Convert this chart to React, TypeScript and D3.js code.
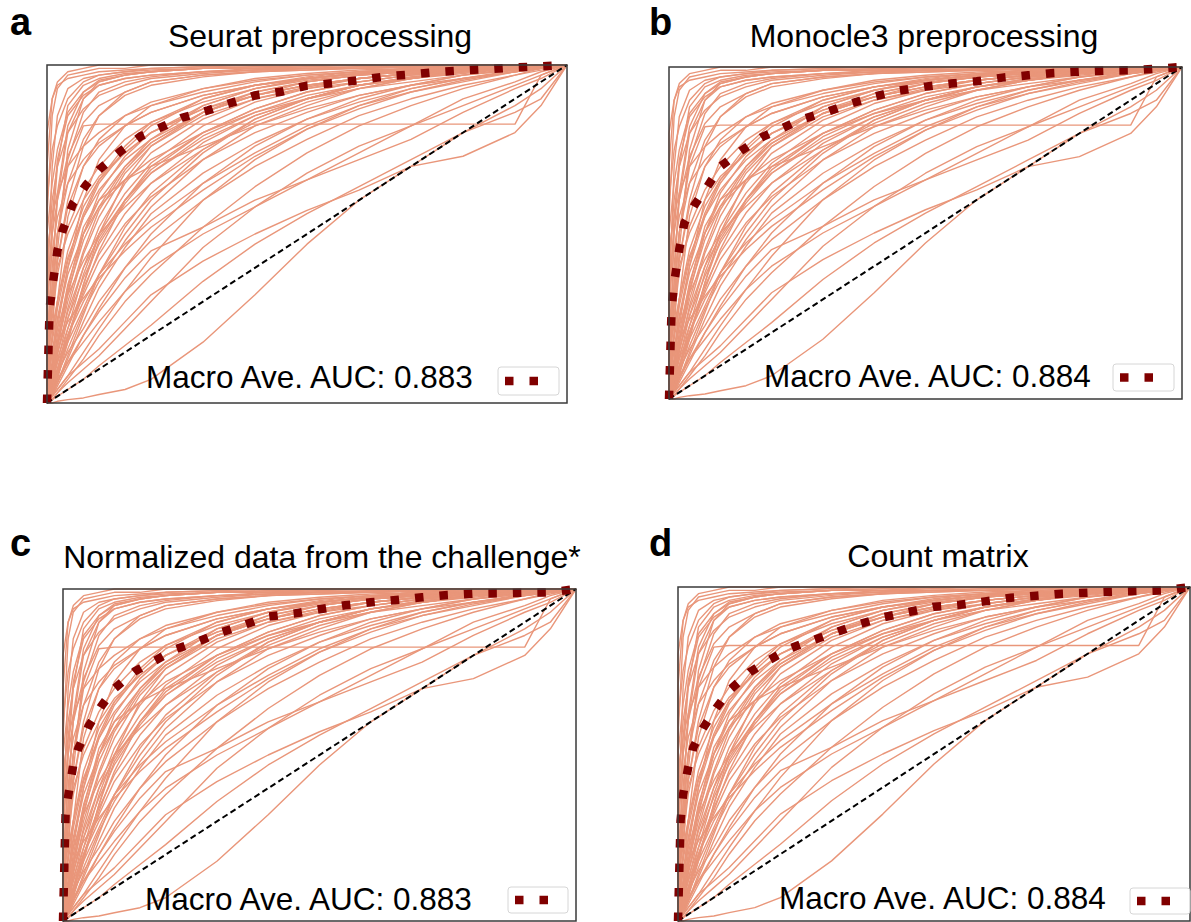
import React from 'react';
import * as d3 from 'd3';

// ---------- DATA ----------
// shared false-positive-rate grid for the per-class ROC curves
const FPR_GRID = [0, 0.01, 0.02, 0.04, 0.07, 0.1, 0.15, 0.2, 0.3, 0.4, 0.5, 0.6, 0.7, 0.8, 0.9, 0.95, 1];
// every ROC curve starts at the origin
const ROC_ORIGIN: [number, number] = [0, 0];

// per-class true-positive rates at FPR_GRID
const CLASS_TPR: number[][] = [
  [0.55, 0.85, 0.93, 0.97, 0.98, 0.99, 0.99, 1, 1, 1, 1, 1, 1, 1, 1, 1, 1],
  [0.3, 0.7, 0.85, 0.93, 0.96, 0.97, 0.98, 0.985, 0.99, 0.995, 1, 1, 1, 1, 1, 1, 1],
  [0.1, 0.5, 0.7, 0.88, 0.94, 0.96, 0.975, 0.98, 0.99, 0.99, 0.995, 1, 1, 1, 1, 1, 1],
  [0.6, 0.75, 0.82, 0.9, 0.95, 0.97, 0.98, 0.99, 0.995, 1, 1, 1, 1, 1, 1, 1, 1],
  [0.2, 0.4, 0.6, 0.8, 0.9, 0.94, 0.96, 0.97, 0.98, 0.99, 0.99, 0.995, 1, 1, 1, 1, 1],
  [0.05, 0.3, 0.5, 0.72, 0.86, 0.92, 0.95, 0.965, 0.98, 0.985, 0.99, 0.995, 0.995, 1, 1, 1, 1],
  [0.4, 0.6, 0.7, 0.8, 0.87, 0.91, 0.94, 0.96, 0.975, 0.985, 0.99, 0.99, 0.995, 1, 1, 1, 1],
  [0.0, 0.2, 0.45, 0.75, 0.9, 0.95, 0.97, 0.98, 0.99, 0.99, 1, 1, 1, 1, 1, 1, 1],
  [0.7, 0.9, 0.95, 0.98, 0.99, 1, 1, 1, 1, 1, 1, 1, 1, 1, 1, 1, 1],
  [0.15, 0.35, 0.5, 0.65, 0.78, 0.85, 0.91, 0.94, 0.965, 0.98, 0.985, 0.99, 0.995, 1, 1, 1, 1],
  [0.8, 0.9, 0.94, 0.96, 0.97, 0.98, 0.985, 0.99, 0.995, 1, 1, 1, 1, 1, 1, 1, 1],
  [0.25, 0.55, 0.72, 0.85, 0.91, 0.94, 0.96, 0.97, 0.98, 0.985, 0.99, 0.99, 0.995, 1, 1, 1, 1],
  [0.0, 0.35, 0.62, 0.82, 0.92, 0.955, 0.97, 0.98, 0.99, 0.995, 1, 1, 1, 1, 1, 1, 1],
  [0.5, 0.65, 0.75, 0.86, 0.92, 0.95, 0.97, 0.98, 0.99, 0.99, 0.995, 1, 1, 1, 1, 1, 1],
  [0.12, 0.28, 0.42, 0.6, 0.76, 0.85, 0.92, 0.95, 0.97, 0.98, 0.99, 0.99, 0.995, 1, 1, 1, 1],
  [0.35, 0.5, 0.6, 0.73, 0.83, 0.88, 0.92, 0.95, 0.97, 0.98, 0.985, 0.99, 0.995, 1, 1, 1, 1],
  [0.05, 0.15, 0.25, 0.4, 0.55, 0.65, 0.75, 0.82, 0.9, 0.94, 0.96, 0.975, 0.985, 0.99, 0.995, 1, 1],
  [0.02, 0.1, 0.2, 0.35, 0.5, 0.6, 0.7, 0.77, 0.86, 0.91, 0.94, 0.96, 0.975, 0.985, 0.995, 1, 1],
  [0.1, 0.25, 0.38, 0.52, 0.63, 0.7, 0.78, 0.83, 0.89, 0.93, 0.955, 0.97, 0.98, 0.99, 0.995, 1, 1],
  [0.0, 0.05, 0.12, 0.25, 0.4, 0.52, 0.65, 0.74, 0.84, 0.9, 0.935, 0.96, 0.975, 0.985, 0.99, 0.995, 1],
  [0.2, 0.3, 0.4, 0.5, 0.6, 0.67, 0.74, 0.8, 0.87, 0.92, 0.95, 0.97, 0.98, 0.99, 1, 1, 1],
  [0.0, 0.08, 0.18, 0.33, 0.48, 0.58, 0.7, 0.78, 0.88, 0.93, 0.96, 0.975, 0.985, 0.99, 0.995, 1, 1],
  [0.3, 0.45, 0.55, 0.65, 0.72, 0.77, 0.82, 0.86, 0.91, 0.94, 0.96, 0.975, 0.985, 0.99, 1, 1, 1],
  [0.05, 0.12, 0.22, 0.4, 0.6, 0.72, 0.82, 0.88, 0.93, 0.96, 0.975, 0.985, 0.99, 0.995, 1, 1, 1],
  [0.0, 0.1, 0.3, 0.55, 0.7, 0.78, 0.85, 0.89, 0.93, 0.955, 0.97, 0.98, 0.985, 0.99, 0.995, 1, 1],
  [0.08, 0.18, 0.28, 0.42, 0.56, 0.66, 0.76, 0.83, 0.9, 0.94, 0.965, 0.98, 0.99, 0.995, 1, 1, 1],
  [0.45, 0.55, 0.62, 0.7, 0.76, 0.8, 0.85, 0.88, 0.92, 0.95, 0.97, 0.98, 0.99, 0.995, 1, 1, 1],
  [0.0, 0.03, 0.07, 0.18, 0.35, 0.5, 0.66, 0.76, 0.86, 0.92, 0.95, 0.97, 0.98, 0.99, 0.995, 1, 1],
  [0.0, 0.06, 0.14, 0.28, 0.44, 0.55, 0.68, 0.76, 0.85, 0.9, 0.93, 0.95, 0.97, 0.98, 0.99, 0.995, 1],
  [0.15, 0.22, 0.3, 0.43, 0.55, 0.63, 0.72, 0.78, 0.86, 0.91, 0.94, 0.96, 0.975, 0.985, 0.995, 1, 1],
  [0.04, 0.1, 0.17, 0.3, 0.45, 0.57, 0.69, 0.77, 0.86, 0.91, 0.95, 0.97, 0.98, 0.99, 0.995, 1, 1],
  [0.0, 0.04, 0.1, 0.22, 0.38, 0.5, 0.62, 0.71, 0.82, 0.89, 0.93, 0.96, 0.975, 0.985, 0.995, 1, 1],
  [0.0, 0.04, 0.08, 0.16, 0.27, 0.36, 0.48, 0.58, 0.72, 0.82, 0.88, 0.93, 0.96, 0.98, 0.99, 0.995, 1],
  [0.02, 0.06, 0.1, 0.18, 0.28, 0.38, 0.5, 0.6, 0.74, 0.84, 0.9, 0.94, 0.965, 0.98, 0.99, 0.995, 1],
  [0.0, 0.02, 0.05, 0.11, 0.2, 0.28, 0.4, 0.5, 0.65, 0.76, 0.84, 0.9, 0.94, 0.97, 0.99, 0.995, 1],
  [0.1, 0.14, 0.18, 0.24, 0.31, 0.37, 0.45, 0.52, 0.63, 0.73, 0.81, 0.88, 0.93, 0.96, 0.98, 0.99, 1],
  [0.0, 0.03, 0.06, 0.13, 0.24, 0.34, 0.46, 0.56, 0.68, 0.77, 0.84, 0.89, 0.93, 0.96, 0.985, 0.99, 1],
  [0.03, 0.08, 0.13, 0.22, 0.34, 0.44, 0.56, 0.65, 0.77, 0.85, 0.9, 0.94, 0.965, 0.98, 0.99, 0.995, 1],
  [0.0, 0.05, 0.1, 0.2, 0.33, 0.45, 0.6, 0.7, 0.8, 0.87, 0.92, 0.95, 0.97, 0.985, 0.995, 1, 1],
  [0.05, 0.1, 0.15, 0.25, 0.37, 0.47, 0.59, 0.68, 0.79, 0.86, 0.91, 0.94, 0.96, 0.975, 0.99, 0.995, 1],
  [0.0, 0.02, 0.04, 0.08, 0.15, 0.22, 0.33, 0.43, 0.6, 0.72, 0.81, 0.87, 0.92, 0.955, 0.98, 0.99, 1],
  [0.1, 0.3, 0.5, 0.7, 0.82, 0.825, 0.825, 0.825, 0.825, 0.825, 0.825, 0.825, 0.825, 0.825, 0.825, 0.97, 1],
  [0.0, 0.0, 0.005, 0.01, 0.015, 0.025, 0.04, 0.07, 0.18, 0.32, 0.47, 0.6, 0.7, 0.73, 0.8, 0.88, 1],
  [0.0, 0.01, 0.02, 0.04, 0.07, 0.11, 0.17, 0.23, 0.36, 0.47, 0.56, 0.64, 0.72, 0.8, 0.88, 0.93, 1],
  [0.0, 0.02, 0.04, 0.08, 0.12, 0.16, 0.24, 0.32, 0.42, 0.5, 0.57, 0.63, 0.7, 0.8, 0.86, 0.9, 1],
  [0.0, 0.03, 0.06, 0.12, 0.2, 0.27, 0.37, 0.45, 0.52, 0.6, 0.66, 0.72, 0.78, 0.86, 0.93, 0.96, 1],
  [0.0, 0.01, 0.03, 0.06, 0.1, 0.14, 0.22, 0.3, 0.46, 0.58, 0.68, 0.76, 0.82, 0.88, 0.94, 0.97, 1],
  [0.02, 0.04, 0.07, 0.12, 0.18, 0.24, 0.33, 0.4, 0.5, 0.58, 0.66, 0.74, 0.82, 0.9, 0.95, 0.98, 1],
  [0.0, 0.08, 0.15, 0.27, 0.4, 0.49, 0.6, 0.68, 0.78, 0.85, 0.9, 0.94, 0.96, 0.98, 0.99, 0.995, 1],
  [0.05, 0.15, 0.22, 0.32, 0.42, 0.5, 0.58, 0.65, 0.75, 0.83, 0.89, 0.93, 0.96, 0.98, 0.99, 1, 1],
  [0.0, 0.12, 0.24, 0.38, 0.5, 0.58, 0.66, 0.72, 0.8, 0.86, 0.9, 0.93, 0.95, 0.97, 0.985, 0.99, 1],
  [0.0, 0.02, 0.06, 0.14, 0.26, 0.38, 0.52, 0.62, 0.75, 0.84, 0.9, 0.94, 0.96, 0.98, 0.99, 1, 1],
  [0.0, 0.05, 0.09, 0.15, 0.22, 0.3, 0.4, 0.48, 0.6, 0.7, 0.78, 0.85, 0.9, 0.94, 0.97, 0.99, 1],
  [0.08, 0.2, 0.3, 0.45, 0.58, 0.66, 0.74, 0.8, 0.87, 0.91, 0.94, 0.96, 0.975, 0.985, 0.995, 1, 1],
  [0.0, 0.03, 0.08, 0.2, 0.32, 0.42, 0.53, 0.61, 0.72, 0.8, 0.86, 0.91, 0.94, 0.97, 0.985, 0.99, 1],
  [0.02, 0.07, 0.12, 0.2, 0.3, 0.38, 0.47, 0.54, 0.65, 0.74, 0.82, 0.88, 0.92, 0.95, 0.98, 0.99, 1],
  [0.0, 0.04, 0.09, 0.19, 0.35, 0.48, 0.6, 0.69, 0.8, 0.87, 0.92, 0.95, 0.97, 0.985, 0.995, 1, 1],
  [0.15, 0.3, 0.42, 0.58, 0.7, 0.76, 0.82, 0.86, 0.91, 0.94, 0.96, 0.975, 0.985, 0.99, 1, 1, 1],
  [0.0, 0.01, 0.03, 0.07, 0.13, 0.2, 0.3, 0.38, 0.52, 0.64, 0.74, 0.82, 0.88, 0.93, 0.97, 0.985, 1],
  [0.0, 0.06, 0.16, 0.32, 0.5, 0.62, 0.73, 0.8, 0.88, 0.93, 0.96, 0.975, 0.985, 0.99, 0.995, 1, 1],
  [0.03, 0.09, 0.18, 0.34, 0.52, 0.6, 0.66, 0.7, 0.76, 0.82, 0.87, 0.91, 0.94, 0.96, 0.98, 0.99, 1],
];

// macro-average ROC curve
const MACRO_FPR = [0, 0.005, 0.01, 0.02, 0.03, 0.05, 0.075, 0.1, 0.14, 0.18, 0.22, 0.26, 0.31, 0.35, 0.4, 0.45, 0.5, 0.55, 0.6, 0.65, 0.7, 0.75, 0.8, 0.85, 0.9, 0.95, 1];
const MACRO_TPR_A = [0, 0.28, 0.34, 0.45, 0.51, 0.59, 0.645, 0.69, 0.743, 0.789, 0.816, 0.844, 0.866, 0.886, 0.91, 0.921, 0.939, 0.946, 0.955, 0.966, 0.972, 0.979, 0.984, 0.988, 0.993, 0.996, 1];
const MACRO_TPR_B = [0, 0.27, 0.35, 0.45, 0.53, 0.585, 0.64, 0.7, 0.747, 0.788, 0.815, 0.843, 0.866, 0.888, 0.911, 0.929, 0.941, 0.95, 0.957, 0.968, 0.975, 0.982, 0.986, 0.989, 0.99, 0.995, 1];
const MACRO_TPR_C = [0, 0.32, 0.375, 0.47, 0.52, 0.587, 0.648, 0.7, 0.752, 0.785, 0.819, 0.84, 0.87, 0.89, 0.917, 0.926, 0.939, 0.951, 0.96, 0.967, 0.975, 0.982, 0.986, 0.987, 0.989, 0.99, 1];
const MACRO_TPR_D = [0, 0.3, 0.38, 0.46, 0.52, 0.58, 0.638, 0.69, 0.745, 0.783, 0.817, 0.839, 0.865, 0.887, 0.909, 0.925, 0.941, 0.947, 0.957, 0.968, 0.974, 0.98, 0.983, 0.986, 0.988, 0.99, 1];

const PANEL_LETTERS = ['a', 'b', 'c', 'd'];
const PANEL_TITLES = ['Seurat preprocessing', 'Monocle3 preprocessing', 'Normalized data from the challenge*', 'Count matrix'];
const MACRO_AUC = ['0.883', '0.884', '0.883', '0.884'];
const MACRO_TPRS = [MACRO_TPR_A, MACRO_TPR_B, MACRO_TPR_C, MACRO_TPR_D];

// ---------- LAYOUT ----------
const LAYOUT = [
  { frame: [47, 65, 567, 403], letter: [10, 35], title: [320, 47], legendText: [146, 388], box: [498, 367, 61, 28] },
  { frame: [669, 67, 1182, 399], letter: [649, 35], title: [924, 47], legendText: [764, 387], box: [1113, 364, 61, 27] },
  { frame: [63, 589, 576, 921], letter: [10, 556], title: [322, 568], legendText: [145, 910], box: [508, 887, 60, 26] },
  { frame: [678, 587, 1190, 921], letter: [649, 556], title: [938, 567], legendText: [779, 909], box: [1130, 888, 60, 26] },
];

const FONT = "'Liberation Sans', Arial, Helvetica, sans-serif";
const CURVE_COLOR = '#E9967A';
const MACRO_COLOR = '#800000';
const MACRO_W = 8.5;
const MACRO_DASH = '8.5 16';

function Panel({ i }: { i: number }) {
  const L = LAYOUT[i];
  const [x0, y0, x1, y1] = L.frame;
  const x = d3.scaleLinear().domain([0, 1]).range([x0, x1]);
  const y = d3.scaleLinear().domain([0, 1]).range([y1, y0]);
  const line = d3.line<[number, number]>().x((d) => x(d[0])).y((d) => y(d[1]));
  const macroPts: [number, number][] = MACRO_FPR.map((f, k) => [f, MACRO_TPRS[i][k]]);
  const [bx, by, bw, bh] = L.box;
  const hy = by + bh / 2;
  return (
    <g>
      <text x={L.letter[0]} y={L.letter[1]} fontFamily={FONT} fontWeight="bold" fontSize={38} fill="#000">
        {PANEL_LETTERS[i]}
      </text>
      <text x={L.title[0]} y={L.title[1]} fontFamily={FONT} fontSize={32} textAnchor="middle" fill="#000">
        {PANEL_TITLES[i]}
      </text>
      <rect x={x0} y={y0} width={x1 - x0} height={y1 - y0} fill="#fff" />
      {CLASS_TPR.map((tprs, c) => {
        const pts: [number, number][] = [ROC_ORIGIN, ...FPR_GRID.map((f, k) => [f, tprs[k]] as [number, number])];
        return (
          <path
            key={c}
            d={line(pts) || ''}
            fill="none"
            stroke={CURVE_COLOR}
            strokeWidth={1.4}
            strokeLinejoin="round"
          />
        );
      })}
      <path
        d={line([[0, 0], [1, 1]]) || ''}
        fill="none"
        stroke="#000"
        strokeWidth={2}
        strokeDasharray="6 3.5"
      />
      <path
        d={line(macroPts) || ''}
        fill="none"
        stroke={MACRO_COLOR}
        strokeWidth={MACRO_W}
        strokeDasharray={MACRO_DASH}
      />
      <rect x={x0} y={y0} width={x1 - x0} height={y1 - y0} fill="none" stroke="#3a3a3a" strokeWidth={1.5} />
      <text x={L.legendText[0]} y={L.legendText[1]} fontFamily={FONT} fontSize={31.5} fill="#000">
        {`Macro Ave. AUC: ${MACRO_AUC[i]}`}
      </text>
      <rect x={bx} y={by} width={bw} height={bh} rx={3} fill="#fff" fillOpacity={0.85} stroke="#d6d6d6" strokeWidth={1} />
      <line x1={bx + 7} x2={bx + 42} y1={hy} y2={hy} stroke={MACRO_COLOR} strokeWidth={MACRO_W} strokeDasharray={MACRO_DASH} />
    </g>
  );
}

export default function App() {
  return (
    <svg
      width={1191}
      height={922}
      style={{ position: 'absolute', left: 0, top: 0, background: '#fff' }}
      xmlns="http://www.w3.org/2000/svg"
    >
      <rect x={0} y={0} width={1191} height={922} fill="#fff" />
      {[0, 1, 2, 3].map((i) => (
        <Panel key={i} i={i} />
      ))}
    </svg>
  );
}
